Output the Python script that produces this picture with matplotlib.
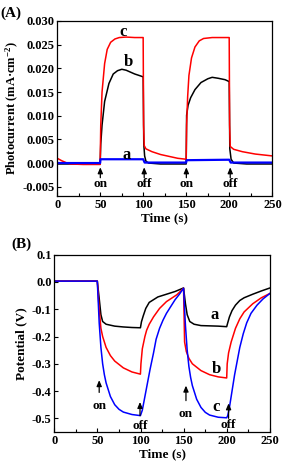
import numpy as np
import matplotlib
matplotlib.use("Agg")
import matplotlib.pyplot as plt
from matplotlib.ticker import MultipleLocator

plt.rcParams['font.family'] = ['Liberation Serif', 'DejaVu Serif']
plt.rcParams['font.weight'] = 'bold'
plt.rcParams['mathtext.fontset'] = 'custom'
plt.rcParams['mathtext.rm'] = 'Liberation Serif:bold'
plt.rcParams['mathtext.default'] = 'rm'

# ---- panel A: photocurrent (mA cm-2) vs time (s) ----
a_t = [0, 49.8, 50.2, 99.8, 101.5, 149.8, 150.2, 199.8, 201.5, 250]
a_i = [0.0000, 0.0000, 0.0008, 0.0008, 0.0001, 0.0001, 0.0006, 0.0007, 0.0001, 0.0001]

b_t = [0, 49.8, 50.5, 52, 55, 60, 65, 70, 75, 80, 85, 90, 95, 99.8,
       100.5, 101.5, 103, 106, 120, 149.8,
       150.3, 152, 155, 160, 167, 175, 180, 187, 195, 199.8,
       200.5, 202, 205, 220, 250]
b_i = [-0.0002, -0.0002, 0.004, 0.008, 0.013, 0.0168, 0.0188, 0.0195, 0.0198, 0.0196, 0.0192, 0.0188, 0.0185, 0.0182,
       0.004, 0.0015, 0.0004, 0.0000, -0.0002, -0.0002,
       0.0101, 0.0122, 0.0138, 0.0155, 0.0170, 0.0178, 0.0181, 0.0179, 0.0176, 0.0172,
       0.003, 0.0008, 0.0000, -0.0002, -0.0002]

c_t = [0, 5, 10, 15, 30, 49.8, 50.5, 52, 55, 58, 62, 67, 72, 80, 90, 99.8,
       100.3, 101, 103, 110, 120, 130, 140, 149.8,
       150.3, 151.5, 153, 156, 160, 165, 170, 180, 190, 199.8,
       200.3, 201, 205, 215, 230, 250]
c_i = [0.0010, 0.0005, 0.0001, -0.0002, -0.0003, -0.0003, 0.008, 0.015, 0.021, 0.0240, 0.0255, 0.0262, 0.0265, 0.0266, 0.0265, 0.0265,
       0.008, 0.0037, 0.0030, 0.0024, 0.0018, 0.0014, 0.0010, 0.0008,
       0.008, 0.014, 0.0185, 0.0222, 0.0245, 0.0258, 0.0263, 0.0265, 0.0265, 0.0265,
       0.008, 0.0035, 0.0029, 0.0024, 0.0019, 0.0015]

# ---- panel B: potential (V) vs time (s) ----
pa_t = [0, 49.8, 52, 54, 56, 60, 70, 80, 90, 99.8,
        101, 103, 106, 110, 120, 130, 140, 149.8,
        152, 154, 157, 162, 170, 180, 190, 199.8,
        201, 203, 206, 210, 215, 220, 230, 240, 250]
pa_v = [0.003, 0.003, -0.06, -0.12, -0.145, -0.155, -0.162, -0.165, -0.167, -0.168,
        -0.146, -0.125, -0.097, -0.075, -0.055, -0.045, -0.035, -0.022,
        -0.08, -0.12, -0.145, -0.155, -0.160, -0.161, -0.162, -0.164,
        -0.15, -0.128, -0.105, -0.085, -0.068, -0.058, -0.045, -0.033, -0.022]

pb_t = [0, 49.8, 52, 54, 56, 60, 65, 70, 80, 90, 99.8,
        100.4, 102, 105, 107, 110, 115, 122, 130, 142, 149.8,
        150.4, 151, 153, 156, 160, 170, 180, 190, 199.8,
        200.4, 202, 205, 210, 215, 220, 230, 240, 250]
pb_v = [0.003, 0.003, -0.10, -0.17, -0.20, -0.24, -0.27, -0.29, -0.315, -0.330, -0.338,
        -0.30, -0.245, -0.20, -0.177, -0.155, -0.128, -0.097, -0.072, -0.047, -0.023,
        -0.12, -0.22, -0.255, -0.28, -0.30, -0.325, -0.340, -0.348, -0.352,
        -0.30, -0.26, -0.22, -0.17, -0.135, -0.11, -0.08, -0.058, -0.042]

pc_t = [0, 49.8, 51, 52, 54, 56, 58, 60, 65, 70, 75, 80, 90, 99.8,
        102, 105, 108, 111, 115, 118, 122, 126, 130, 135, 140, 145, 149.8,
        151, 152, 154, 156, 158, 160, 165, 170, 175, 180, 190, 199.8,
        201, 203, 206, 209, 212, 215, 219, 223, 228, 235, 242, 250]
pc_v = [0.003, 0.003, -0.08, -0.15, -0.24, -0.30, -0.34, -0.37, -0.42, -0.45, -0.467, -0.477, -0.486, -0.490,
        -0.47, -0.42, -0.37, -0.32, -0.26, -0.21, -0.17, -0.14, -0.115, -0.09, -0.065, -0.045, -0.023,
        -0.10, -0.16, -0.25, -0.31, -0.35, -0.38, -0.43, -0.46, -0.478, -0.488, -0.496, -0.498,
        -0.49, -0.46, -0.40, -0.34, -0.29, -0.24, -0.19, -0.15, -0.115, -0.085, -0.062, -0.042]

fig = plt.figure(figsize=(2.83, 4.66), dpi=100)
axA = fig.add_axes([0.2025, 0.579, 0.760, 0.376])
axB = fig.add_axes([0.192, 0.073, 0.762, 0.3805])

lw = 1.1
axA.plot(b_t, b_i, color='black', lw=lw)
axA.plot(c_t, c_i, color='red', lw=lw)
axA.plot(a_t, a_i, color='blue', lw=1.6)

axB.plot(pa_t, pa_v, color='black', lw=lw)
axB.plot(pb_t, pb_v, color='red', lw=lw)
axB.plot(pc_t, pc_v, color='blue', lw=lw)

fs = 9
for ax in (axA, axB):
    ax.set_xlim(0, 250)
    ax.xaxis.set_major_locator(MultipleLocator(50))
    ax.xaxis.set_minor_locator(MultipleLocator(25))
    ax.tick_params(which='both', direction='in', top=False, right=False, labelsize=fs, pad=2)
    ax.tick_params(which='major', length=3, width=0.8)
    ax.tick_params(which='minor', length=2, width=0.8)
    for sp in ax.spines.values():
        sp.set_linewidth(0.9)
    ax.set_xlabel('Time (s)', fontsize=fs + 0.5, fontweight='bold', labelpad=1)

axA.set_ylim(-0.007, 0.030)
axA.yaxis.set_major_locator(MultipleLocator(0.005))
axA.yaxis.set_major_formatter(matplotlib.ticker.FormatStrFormatter('%.3f'))
axA.set_ylabel('Photocurrent (mA\u00b7cm$^{-2}$)', fontsize=fs, fontweight='bold', labelpad=1)

axB.set_ylim(-0.55, 0.1)
axB.yaxis.set_major_locator(MultipleLocator(0.1))
axB.yaxis.set_major_formatter(matplotlib.ticker.FormatStrFormatter('%.1f'))
axB.set_ylabel('Potential (V)', fontsize=fs + 0.5, fontweight='bold', labelpad=3)

lab = dict(fontsize=12, fontweight='bold', ha='center', va='center')
axA.text(76.7, 0.0276, 'c', **lab)
axA.text(82.5, 0.0214, 'b', **lab)
axA.text(80.6, 0.0018, 'a', **lab)
axB.text(186, -0.12, 'a', **lab)
axB.text(188, -0.32, 'b', **lab)
axB.text(188, -0.46, 'c', **lab)

arr = dict(arrowstyle='-|>,head_width=0.15,head_length=0.35', color='black', lw=0.9,
           shrinkA=0, shrinkB=0)
tx = dict(fontsize=fs + 0.5, fontweight='bold', ha='center', va='center')
for x, s in [(50, 'on'), (101, 'off'), (150, 'on'), (201, 'off')]:
    axA.annotate('', xy=(x, -0.0009), xytext=(x, -0.0031), arrowprops=arr)
    axA.text(x, -0.0045, s, **tx)

for x, y0, y1, ty, s in [(52, -0.405, -0.36, -0.455, 'on'), (99.3, -0.49, -0.44, -0.527, 'off'),
                         (152.6, -0.435, -0.38, -0.485, 'on'), (202, -0.50, -0.445, -0.525, 'off')]:
    axB.annotate('', xy=(x, y1), xytext=(x, y0), arrowprops=arr)
    axB.text(x, ty, s, **tx)

fig.text(0.0, 0.985, '(A)', fontsize=11, fontweight='bold', ha='left', va='top')
fig.text(0.04, 0.49, '(B)', fontsize=11, fontweight='bold', ha='left', va='top')

fig.savefig('out.png', dpi=100)
